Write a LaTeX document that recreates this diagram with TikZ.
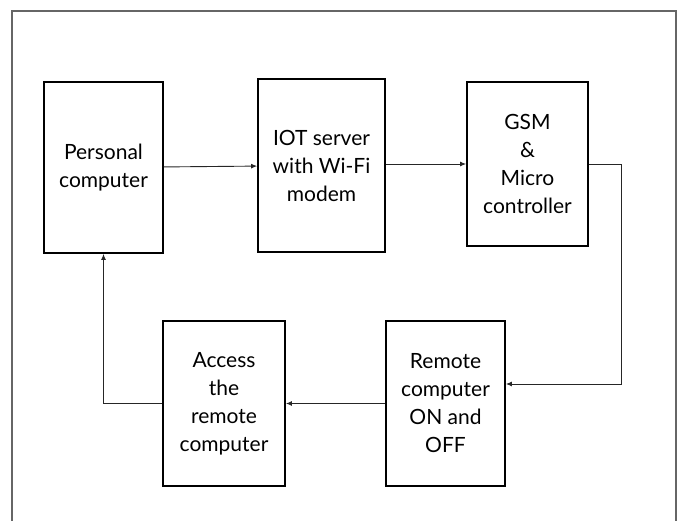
\documentclass[tikz,border=0pt]{standalone}
\usepackage{fontspec}
\setmainfont{Lato}
\usetikzlibrary{positioning,arrows.meta}

\begin{document}
\begin{tikzpicture}[
    x=1pt, y=-1pt,
    block/.style={rectangle, draw, line width=1.8pt, minimum width=120pt, minimum height=167pt, align=center, inner sep=2pt, font=\fontsize{21}{28}\selectfont},
    link/.style={draw=black!85, line width=0.9pt, -{Latex[length=6pt,width=5pt]}}
]
    \useasboundingbox (0,0) rectangle (678,521);

    % Frame
    \draw[black!60, line width=1.4pt] (12,530) -- (12,11) -- (676,11) -- (676,530);

    % Top row
    \node[block, minimum width=119pt, minimum height=171pt] (pc) at (103.5,167.5) {Personal\\computer};
    \node[block, minimum width=127pt, minimum height=173pt] (iot) at (321.5,165.5) {IOT server\\with Wi-Fi\\modem};
    \node[block, minimum width=121pt, minimum height=164pt] (gsm) at (527.5,164) {GSM\\\&\\Micro\\controller};

    % Bottom row
    \node[block, minimum width=122pt, minimum height=165pt] (access) at (224,403.5) {Access\\the\\remote\\computer};
    \node[block, minimum width=119pt, minimum height=165pt] (remote) at (445.5,403.5) {Remote\\computer\\ON and\\OFF};

    % Arrows
    \draw[link] (pc) -- (iot);
    \draw[link] (iot.east |- gsm.west) -- (gsm);
    \draw[link] (gsm.east) -- ++(33,0) |- ([yshift=19.5pt]remote.east);
    \draw[link] (remote) -- (access);
    \draw[link] (access.west) -| (pc.south);
\end{tikzpicture}
\end{document}
